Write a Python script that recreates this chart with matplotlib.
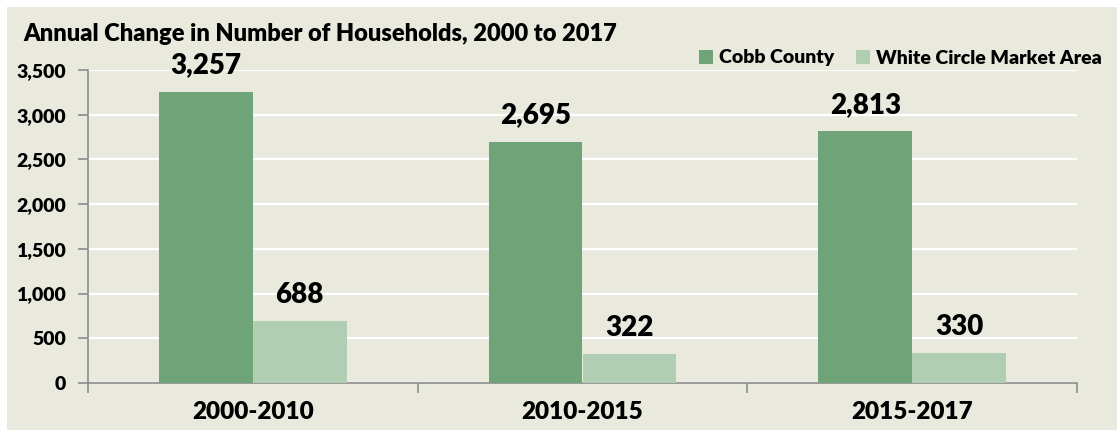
import matplotlib
matplotlib.use("Agg")
import matplotlib.pyplot as plt
from matplotlib.patches import Rectangle, Patch
import numpy as np

# Annual household change by period
periods = ["2000-2010", "2010-2015", "2015-2017"]
cobb_county = [3257, 2695, 2813]
market_area = [688, 322, 330]
series_names = ["Cobb County", "White Circle Market Area"]
y_ticks = [0, 500, 1000, 1500, 2000, 2500, 3000, 3500]

plt.rcParams['font.family'] = ['Lato', 'DejaVu Sans']
wt = "heavy"

bg = "#E9E9DE"
dark_green = "#6FA478"
light_green = "#B0CEB2"
axis_gray = "#8C8C8C"

fig = plt.figure(figsize=(11.17, 4.30), dpi=100)
fig.patch.set_facecolor("white")
# beige panel behind everything, leaving a thin white strip top and left
fig.patches.append(Rectangle((7 / 1117, 0), 1, 1 - 7 / 430,
                             transform=fig.transFigure, facecolor=bg,
                             edgecolor="none", zorder=-10))

ax = fig.add_axes([88 / 1117, 1 - 383 / 430, (1077 - 88) / 1117, (383 - 70) / 430])
ax.set_facecolor(bg)

x = np.arange(len(periods))
w = 0.285
b1 = ax.bar(x - w / 2, cobb_county, w, color=dark_green, zorder=3)
b2 = ax.bar(x + w / 2, market_area, w, color=light_green, zorder=3)

# value labels above the bars
for rect, v in zip(list(b1) + list(b2), cobb_county + market_area):
    ax.text(rect.get_x() + rect.get_width() / 2, v + 150, f"{v:,}",
            ha="center", va="bottom", fontsize=20, fontweight=wt, zorder=4)

ax.set_xlim(-0.5, len(periods) - 0.5)
ax.set_ylim(0, 3500)
ax.set_yticks(y_ticks)
ax.set_yticklabels([f"{t:,}" for t in y_ticks], fontsize=14, fontweight=wt)
ax.yaxis.grid(True, color="white", linewidth=1.6, zorder=1)
ax.set_axisbelow(True)

# category boundaries carry the ticks, labels sit in the middle
ax.set_xticks(np.arange(-0.5, len(periods)), labels=[""] * (len(periods) + 1))
ax.set_xticks(x, minor=True)
ax.set_xticklabels(periods, minor=True, fontsize=17.5, fontweight=wt)
ax.tick_params(axis="x", which="minor", length=0, pad=13)
ax.tick_params(axis="x", which="major", length=7, color=axis_gray, width=1.2)
ax.tick_params(axis="y", length=7, color=axis_gray, width=1.2, pad=9)

for side in ["top", "right"]:
    ax.spines[side].set_visible(False)
for side in ["left", "bottom"]:
    ax.spines[side].set_color(axis_gray)
    ax.spines[side].set_linewidth(1.2)

fig.text(23 / 1117, 1 - 34 / 430, "Annual Change in Number of Households, 2000 to 2017",
         ha="left", va="center", fontsize=17, fontweight=wt)

handles = [Patch(facecolor=dark_green), Patch(facecolor=light_green)]
fig.legend(handles, series_names, loc="center right",
           bbox_to_anchor=(1102 / 1117, 1 - 58 / 430), ncol=2, frameon=False,
           prop={"weight": wt, "size": 14}, handlelength=0.75,
           handleheight=0.75, handletextpad=0.3, columnspacing=1.1,
           borderaxespad=0, borderpad=0)

fig.savefig("out.png", dpi=100, facecolor=fig.get_facecolor())
